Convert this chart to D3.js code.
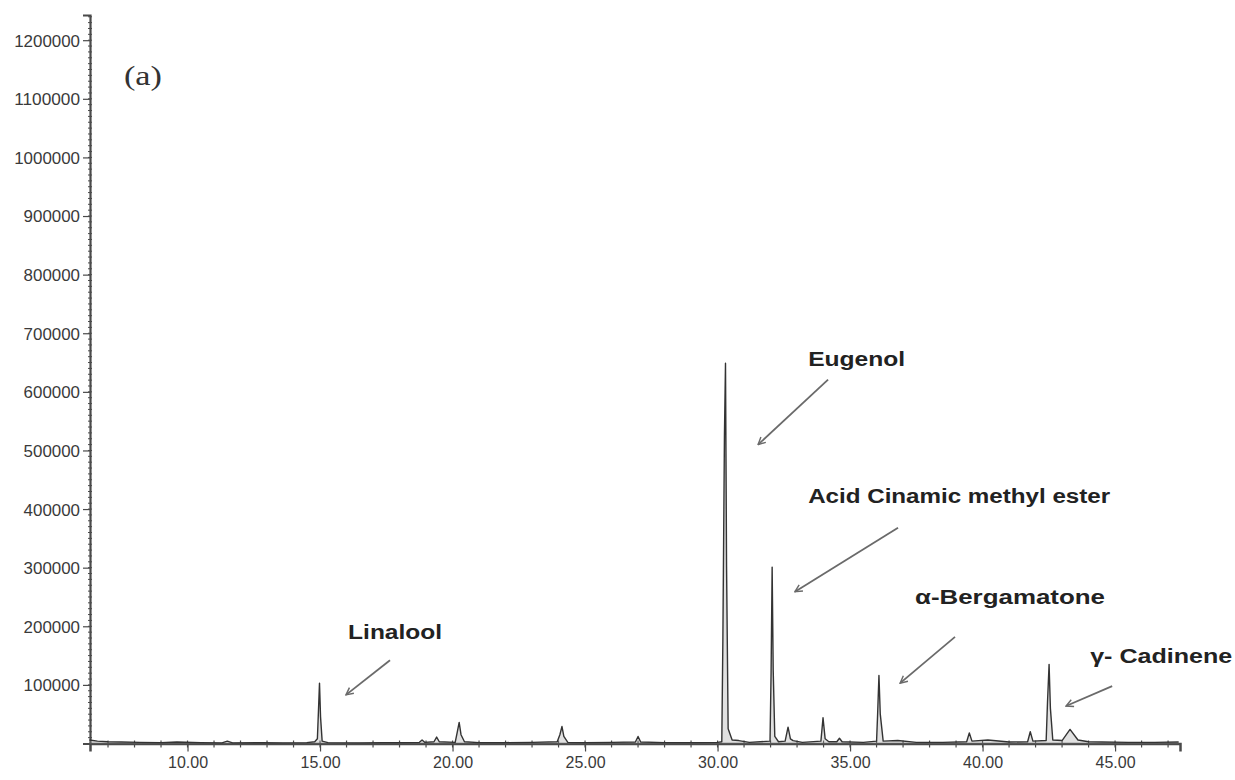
<!DOCTYPE html>
<html>
<head>
<meta charset="utf-8">
<script src="https://cdn.jsdelivr.net/npm/d3@7/dist/d3.min.js"></script>
<style>
  html, body { margin: 0; padding: 0; background: #fff; }
  svg { display: block; }
</style>
</head>
<body>
<svg id="chart" width="1235" height="780"></svg>
<script>
// ---- data (retention time in min, abundance) ----
const retentionTime = [6.30,6.60,7.00,7.50,8.20,9.00,9.60,10.50,11.30,11.50,11.70,12.80,13.60,14.50,
  14.80,14.90,14.94,14.98,15.02,15.08,15.30,16.50,17.40,18.20,18.75,18.85,18.95,19.30,19.40,19.50,
  20.10,20.18,20.25,20.32,20.45,21.00,22.00,23.00,23.95,24.05,24.13,24.20,24.35,25.00,26.00,26.90,
  27.00,27.10,28.00,29.00,30.00,30.16,30.20,30.26,30.30,30.34,30.40,30.55,30.80,31.20,31.98,32.02,
  32.06,32.10,32.16,32.30,32.55,32.66,32.75,32.85,33.20,33.90,33.98,34.06,34.20,34.50,34.60,34.70,
  35.50,36.00,36.04,36.09,36.14,36.25,36.80,37.50,38.50,39.40,39.50,39.60,40.20,41.00,41.70,41.80,
  41.90,42.40,42.45,42.51,42.56,42.65,43.00,43.30,43.60,44.00,44.50,45.50,46.50,47.40];
const abundance = [6000,4000,3000,2500,2000,1500,2500,1500,1000,4000,1000,1500,1000,1500,
  3000,8000,55000,103000,45000,4000,1500,1000,1500,1500,2000,6000,2000,3000,11000,3000,
  2000,20000,36000,15000,3000,1500,1500,2000,3000,15000,29000,12000,2000,1500,2000,2500,
  12000,2500,1500,1500,2000,3000,173000,526000,649000,301000,25000,6000,5000,2000,4000,120000,
  301000,125000,12000,3000,4000,28000,8000,5000,2000,4000,44000,8000,3000,3000,9000,3000,
  2000,4000,50000,116000,50000,4000,5000,2000,2000,3000,18000,4000,6000,2500,3000,20000,
  4000,5000,70000,135000,60000,6000,5000,24000,6000,3000,2500,2000,2000,2500];

const xTicks = [10, 15, 20, 25, 30, 35, 40, 45];
const xTickLabels = ["10.00","15.00","20.00","25.00","30.00","35.00","40.00","45.00"];
const yTicks = [100000,200000,300000,400000,500000,600000,700000,800000,900000,1000000,1100000,1200000];
const yTickLabels = ["100000","200000","300000","400000","500000","600000","700000","800000","900000","1000000","1100000","1200000"];

// annotations: label and arrow in data units
const annoNames = ["Linalool", "Eugenol", "Acid Cinamic methyl ester", "\u03b1-Bergamatone", "\u03b3- Cadinene"];
const annoLabelX = [16.06, 33.42, 33.42, 37.45, 44.06];
const annoLabelY = [178000, 644000, 410000, 238000, 137000];
const annoArrowFromX = [17.64, 34.17, 36.81, 38.96, 44.89];
const annoArrowFromY = [142000, 621000, 368000, 182000, 98000];
const annoArrowToX = [15.98, 31.53, 32.92, 36.89, 43.15];
const annoArrowToY = [83000, 510000, 259000, 103000, 64000];
const annoWidths = [94, 97, 302, 190, 142];
const panelLabel = "(a)";

// ---- layout ----
const svg = d3.select("#chart");
const x = d3.scaleLinear().domain([6.32, 47.45]).range([90, 1180]);
const y = d3.scaleLinear().domain([0, 1243000]).range([743.5, 15]);

const axisColor = "#4a4a4a";
const textColor = "#3a3a3a";

// minor y ticks
const yMinor = d3.range(0, 1240001, 10000);
svg.append("g").selectAll("line").data(yMinor).join("line")
  .attr("x1", x(6.32) - 2).attr("x2", x(6.32) + 2)
  .attr("y1", d => y(d)).attr("y2", d => y(d))
  .attr("stroke", axisColor).attr("stroke-width", 1);

// y axis
const yAxis = d3.axisLeft(y).tickValues(yTicks).tickSize(7)
  .tickFormat((d, i) => yTickLabels[i]);
const gy = svg.append("g").attr("transform", `translate(${x(6.32)},0)`).call(yAxis);
gy.select(".domain").attr("stroke", axisColor).attr("stroke-width", 2.2);
gy.selectAll(".tick line").attr("stroke", axisColor).attr("stroke-width", 1.2);
gy.selectAll(".tick text").attr("fill", textColor)
  .style("font-family", "'Liberation Sans', Arial, sans-serif").style("font-size", "17px")
  .attr("x", -10).attr("dy", "0.35em")
  .attr("textLength", (d, i) => yTickLabels[i].length * 9.4)
  .attr("lengthAdjust", "spacingAndGlyphs");

// minor x ticks
const xMinor = d3.range(7, 48, 1);
svg.append("g").selectAll("line").data(xMinor).join("line")
  .attr("x1", d => x(d)).attr("x2", d => x(d))
  .attr("y1", y(0) - 3).attr("y2", y(0) + 4)
  .attr("stroke", axisColor).attr("stroke-width", 1.2);

// x axis
const xAxis = d3.axisBottom(x).tickValues(xTicks).tickSize(8)
  .tickFormat((d, i) => xTickLabels[i]);
const gx = svg.append("g").attr("transform", `translate(0,${y(0)})`).call(xAxis);
gx.select(".domain").attr("stroke", axisColor).attr("stroke-width", 2.5);
gx.selectAll(".tick line").attr("stroke", axisColor).attr("stroke-width", 1.2);
gx.selectAll(".tick text").attr("fill", textColor)
  .style("font-family", "'Liberation Sans', Arial, sans-serif").style("font-size", "17px")
  .attr("y", 12)
  .attr("textLength", 40).attr("lengthAdjust", "spacingAndGlyphs");

// chromatogram
const pts = retentionTime.map((t, i) => [t, abundance[i]]);
svg.append("path").datum(pts)
  .attr("d", d3.area().x(d => x(d[0])).y0(y(0)).y1(d => y(d[1])))
  .attr("fill", "#9a9a9a").attr("opacity", 0.3);
svg.append("path").datum(pts)
  .attr("d", d3.line().x(d => x(d[0])).y(d => y(d[1])))
  .attr("fill", "none").attr("stroke", "#333").attr("stroke-width", 1.4)
  .attr("stroke-linejoin", "round");

// arrow marker
svg.append("defs").append("marker")
  .attr("id", "arr").attr("viewBox", "0 0 10 10").attr("refX", 9).attr("refY", 5)
  .attr("markerWidth", 9).attr("markerHeight", 9).attr("markerUnits", "userSpaceOnUse")
  .attr("orient", "auto")
  .append("path").attr("d", "M1,1 L9,5 L1,9").attr("fill", "none")
  .attr("stroke", "#6a6a6a").attr("stroke-width", 1.6);

annoNames.forEach((name, i) => {
  svg.append("line")
    .attr("x1", x(annoArrowFromX[i])).attr("y1", y(annoArrowFromY[i]))
    .attr("x2", x(annoArrowToX[i])).attr("y2", y(annoArrowToY[i]))
    .attr("stroke", "#6a6a6a").attr("stroke-width", 1.8)
    .attr("marker-end", "url(#arr)");
  svg.append("text")
    .attr("x", x(annoLabelX[i])).attr("y", y(annoLabelY[i]))
    .attr("fill", "#222")
    .style("font-family", "'Liberation Sans Narrow', 'Arial Narrow', 'Liberation Sans', sans-serif")
    .style("font-weight", "bold").style("font-size", "20px")
    .attr("textLength", annoWidths[i]).attr("lengthAdjust", "spacingAndGlyphs")
    .text(name);
});

svg.append("text")
  .attr("x", x(7.6)).attr("y", y(1124000))
  .attr("fill", "#333")
  .style("font-family", "'Liberation Serif', 'Times New Roman', serif")
  .style("font-size", "28px")
  .attr("textLength", 38).attr("lengthAdjust", "spacingAndGlyphs")
  .text(panelLabel);
</script>
</body>
</html>
